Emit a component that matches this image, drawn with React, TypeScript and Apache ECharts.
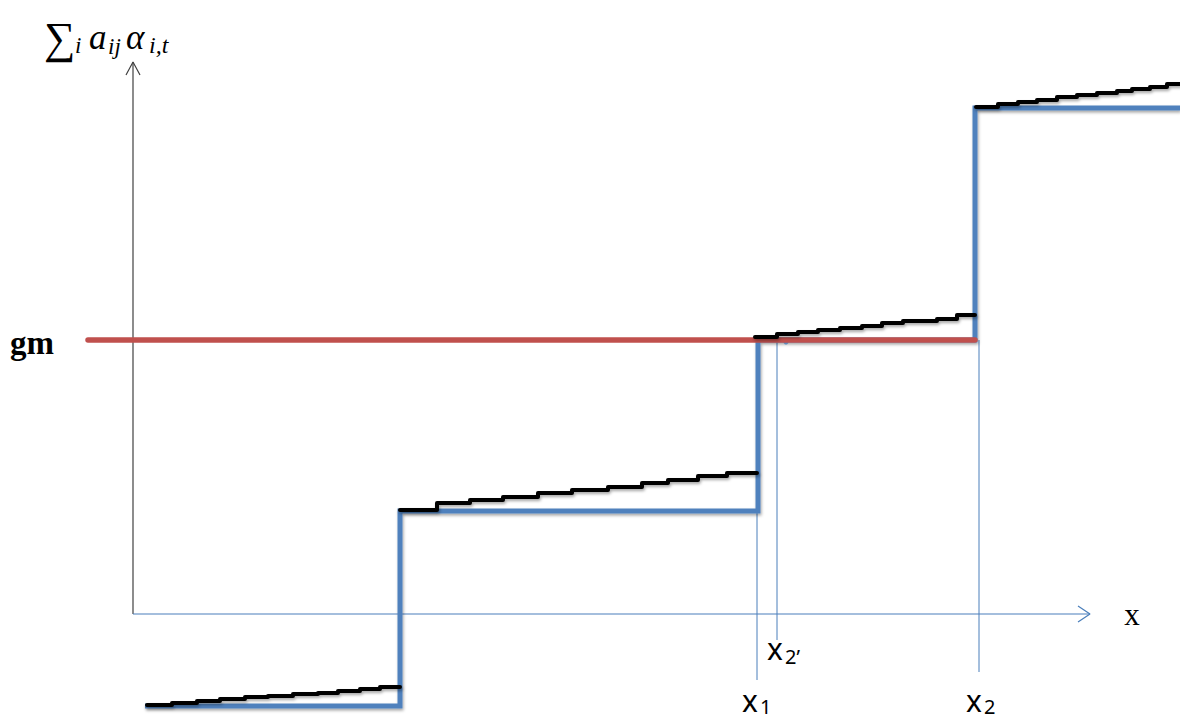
import React, { useEffect, useRef } from "react";
import * as echarts from "echarts";

// value coordinates: origin at the axes' crossing point
const blueStep: [number, number][] = [
  [12, -92], [267, -92], [267, 103], [625, 103], [625, 274], [842, 274], [842, 506], [1047, 506],
];
const gmLine: [number, number][] = [[-45, 274], [842, 274]];

const seg1X = [14, 39, 64, 87, 112, 135, 160, 185, 205, 227, 247, 267];
const seg1Y = [-91, -89, -87, -85, -83, -82, -80, -79, -77, -75, -73, -73];
const seg2X = [267, 304, 337, 370, 405, 439, 475, 509, 535, 565, 594, 624];
const seg2Y = [104, 111, 114, 117, 121, 124, 127, 131, 134, 138, 141, 141];
const seg3X = [622, 644, 665, 685, 707, 729, 749, 770, 804, 824, 842];
const seg3Y = [277, 280, 282, 284, 286, 288, 291, 293, 295, 299, 299];
const seg4X = [843, 865, 885, 904, 924, 944, 964, 984, 999, 1017, 1034, 1047];
const seg4Y = [507, 510, 512, 514, 517, 519, 521, 523, 525, 527, 530, 530];

const guideX1: [number, number][] = [[624, 103], [624, -66]];
const guideX2p: [number, number][] = [[644, 274], [644, -26]];
const guideX2: [number, number][] = [[846, 274], [846, -58]];
const dotPoint: [number, number][] = [[653, 272]];

const yAxisLine: [number, number][] = [[0, 0], [0, 552]];
const yArrow: [number, number][] = [[-7, 539], [0, 552], [7, 539]];
const xAxisLine: [number, number][] = [[0, 0], [957, 0]];
const xArrow: [number, number][] = [[945, 8], [957, 0], [945, -8]];

const zip = (xs: number[], ys: number[]) => xs.map((x, i) => [x, ys[i]]);

export default function App() {
  const ref = useRef<HTMLDivElement>(null);
  useEffect(() => {
    if (!ref.current) return;
    const chart = echarts.init(ref.current, null, { renderer: "svg" });
    const shadow = { shadowBlur: 3, shadowColor: "rgba(0,0,0,0.35)", shadowOffsetX: 1, shadowOffsetY: 2 };
    const thin = (data: any, color: string, w = 1.2) => ({
      type: "line", data, symbol: "none", silent: true,
      lineStyle: { color, width: w }, z: 1,
    });
    const black = (xs: number[], ys: number[]) => ({
      type: "line", step: "end", data: zip(xs, ys), symbol: "none", silent: true,
      lineStyle: { color: "#000", width: 4, cap: "round", join: "round", ...shadow }, z: 4,
    });
    const serif = "'Liberation Serif', 'DejaVu Serif', serif";
    const sans = "'Noto Sans', 'Open Sans', sans-serif";
    const txt = (x: number, y: number, text: string, size: number, family: string, extra: any = {}) => ({
      type: "text", x, y,
      style: { text, font: `${extra.style || ""} ${extra.weight || ""} ${size}px ${family}`, fill: "#000", textAlign: extra.align || "left", textVerticalAlign: "middle" },
    });
    chart.setOption({
      animation: false,
      grid: { left: 0, right: 0, top: 0, bottom: 0 },
      xAxis: { type: "value", min: -133, max: 1047, show: false },
      yAxis: { type: "value", min: -106, max: 614, show: false },
      series: [
        thin(yAxisLine, "#404040"),
        thin(yArrow, "#404040"),
        thin(xAxisLine, "#4a7ebb"),
        thin(xArrow, "#4a7ebb"),
        thin(guideX1, "#4a7ebb", 1),
        thin(guideX2p, "#4a7ebb", 1),
        thin(guideX2, "#4a7ebb", 1),
        {
          type: "scatter", data: dotPoint, symbol: "circle", symbolSize: 5, silent: true,
          itemStyle: { color: "#4a7ebb" }, z: 2,
        },
        {
          type: "line", data: blueStep, symbol: "none", silent: true,
          lineStyle: { color: "#4f81bd", width: 5, join: "miter", ...shadow }, z: 2,
        },
        {
          type: "line", data: gmLine, symbol: "none", silent: true,
          lineStyle: { color: "#c0504d", width: 5.5, cap: "round" }, z: 3,
        },
        black(seg1X, seg1Y),
        black(seg2X, seg2Y),
        black(seg3X, seg3Y),
        black(seg4X, seg4Y),
      ],
      graphic: [
        txt(44, 38, "∑", 44, serif),
        txt(75, 45, "i", 23, serif, { style: "italic" }),
        txt(89, 37, "a", 35, serif, { style: "italic" }),
        txt(108, 46, "ij", 23, serif, { style: "italic" }),
        txt(126, 37, "α", 35, serif, { style: "italic" }),
        txt(149, 45, "i,t", 24, serif, { style: "italic" }),
        txt(10, 343, "gm", 33, serif, { weight: "bold" }),
        txt(1132, 614, "x", 31, serif, { align: "center" }),
        txt(742, 700, "x", 30, sans),
        txt(760, 706, "1", 20, sans),
        txt(767, 648, "x", 30, sans),
        txt(785, 656, "2’", 20, sans),
        txt(966, 700, "x", 30, sans),
        txt(984, 706, "2", 20, sans),
      ],
    });
    return () => chart.dispose();
  }, []);
  return <div ref={ref} style={{ position: "absolute", left: 0, top: 0, width: 1180, height: 720, background: "#fff" }} />;
}
